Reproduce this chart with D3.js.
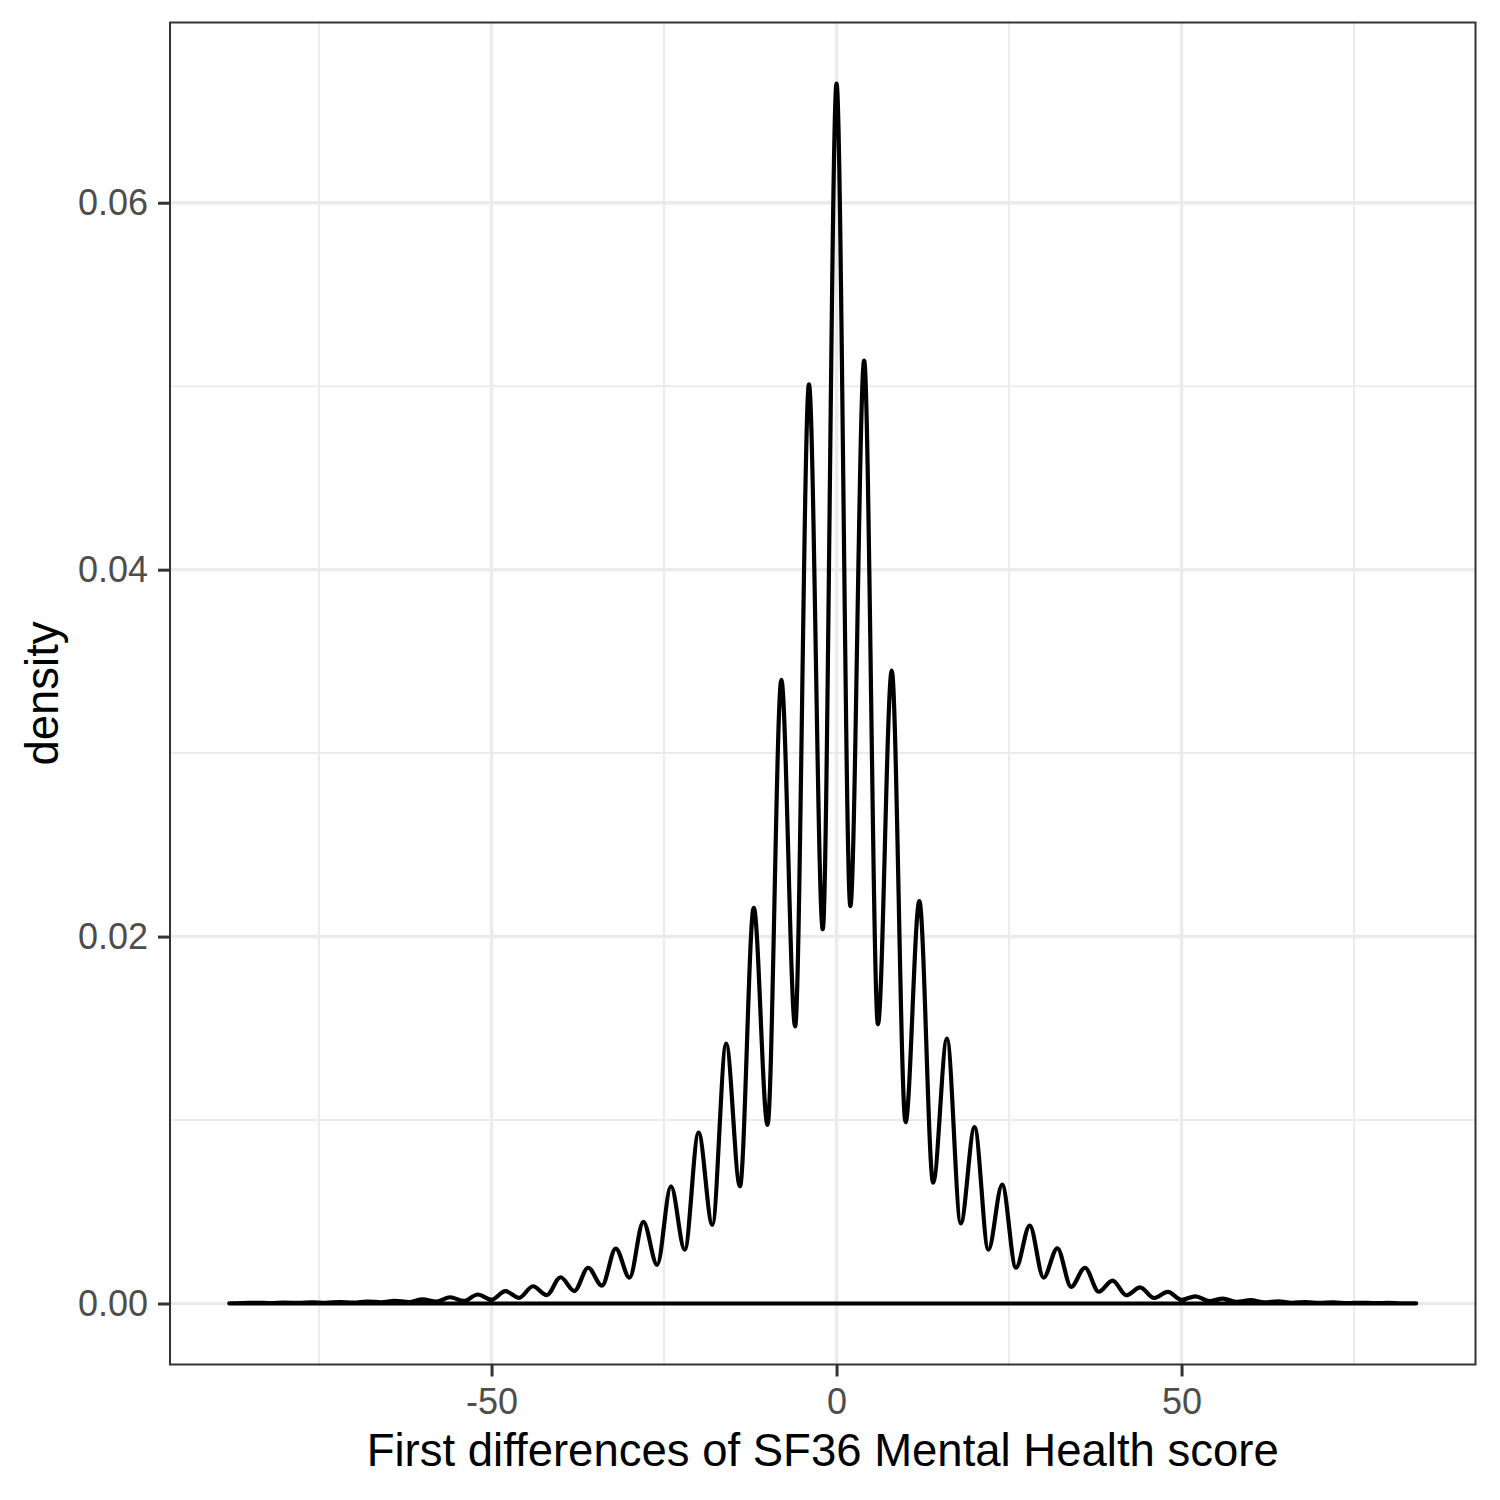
<!DOCTYPE html>
<html>
<head>
<meta charset="utf-8">
<script src="https://cdn.jsdelivr.net/npm/d3@7"></script>
<style>
  body { margin: 0; background: #fff; }
  text { font-family: "Liberation Sans", Arial, sans-serif; }
</style>
</head>
<body>
<svg width="1500" height="1500"></svg>
<script>
// density estimate, one value every 2 units
const diffX = [-88, -86, -84, -82, -80, -78, -76, -74, -72, -70, -68, -66, -64, -62, -60, -58, -56, -54, -52, -50,
  -48, -46, -44, -42, -40, -38, -36, -34, -32, -30, -28, -26, -24, -22, -20, -18, -16, -14, -12, -10,
  -8, -6, -4, -2, 0, 2, 4, 6, 8, 10, 12, 14, 16, 18, 20, 22, 24, 26, 28, 30,
  32, 34, 36, 38, 40, 42, 44, 46, 48, 50, 52, 54, 56, 58, 60, 62, 64, 66, 68, 70,
  72, 74, 76, 78, 80, 82, 84];
const densityY = [0.00001, 0.00002, 0.00004, 0.00002, 0.00005, 0.00003, 0.00006, 0.00004, 0.00008, 0.00005,
  0.00011, 0.00006, 0.00015, 0.00008, 0.00022, 0.00010, 0.00034, 0.00014, 0.00049, 0.00021,
  0.00067, 0.00031, 0.00094, 0.00046, 0.00143, 0.00068, 0.00195, 0.00097, 0.00299, 0.00141,
  0.00445, 0.00211, 0.00639, 0.00293, 0.00931, 0.00429, 0.01416, 0.00639, 0.02157, 0.00974,
  0.0340, 0.01511, 0.0501, 0.0204, 0.0665, 0.02166, 0.0514, 0.01522, 0.0345, 0.00988,
  0.02193, 0.00659, 0.01444, 0.00437, 0.00961, 0.00293, 0.00648, 0.00195, 0.00425, 0.00141,
  0.00301, 0.00091, 0.00195, 0.00064, 0.00125, 0.00045, 0.00088, 0.00030, 0.00063, 0.00020,
  0.00039, 0.00013, 0.00027, 0.00009, 0.00018, 0.00006, 0.00012, 0.00004, 0.00008, 0.00003,
  0.00006, 0.00002, 0.00004, 0.00002, 0.00003, 0.00001, 0.00001];

const xTicks = [-50, 0, 50];
const xMinor = [-75, -25, 25, 75];
const yTicks = [0, 0.02, 0.04, 0.06];
const yMinor = [0.01, 0.03, 0.05];
const xTitle = "First differences of SF36 Mental Health score";
const yTitle = "density";

const svg = d3.select("svg");
const panel = { left: 170, right: 1475.5, top: 22.5, bottom: 1364.5 };

// ggplot style 5% expansion on both axes
const xExt = d3.extent(diffX);
const xPad = (xExt[1] - xExt[0]) * 0.05;
const x = d3.scaleLinear().domain([xExt[0] - xPad, xExt[1] + xPad]).range([panel.left, panel.right]);
const yMax = d3.max(densityY);
const y = d3.scaleLinear().domain([-yMax * 0.05, yMax * 1.05]).range([panel.bottom, panel.top]);

const data = diffX.map((d, i) => ({ x: d, y: densityY[i] }));

svg.append("rect").attr("width", 1500).attr("height", 1500).attr("fill", "#fff");

const grid = svg.append("g");
grid.selectAll(".vminor").data(xMinor).join("line")
  .attr("x1", d => x(d)).attr("x2", d => x(d))
  .attr("y1", panel.top).attr("y2", panel.bottom)
  .attr("stroke", "#EBEBEB").attr("stroke-width", 2);
grid.selectAll(".hminor").data(yMinor).join("line")
  .attr("y1", d => y(d)).attr("y2", d => y(d))
  .attr("x1", panel.left).attr("x2", panel.right)
  .attr("stroke", "#EBEBEB").attr("stroke-width", 2);
grid.selectAll(".vmajor").data(xTicks).join("line")
  .attr("x1", d => x(d)).attr("x2", d => x(d))
  .attr("y1", panel.top).attr("y2", panel.bottom)
  .attr("stroke", "#EBEBEB").attr("stroke-width", 3.5);
grid.selectAll(".hmajor").data(yTicks).join("line")
  .attr("y1", d => y(d)).attr("y2", d => y(d))
  .attr("x1", panel.left).attr("x2", panel.right)
  .attr("stroke", "#EBEBEB").attr("stroke-width", 3.5);

// density outline, including the baseline like geom_density
const area = d3.area()
  .x(d => x(d.x))
  .y0(y(0))
  .y1(d => y(d.y))
  .curve(d3.curveMonotoneX);

svg.append("path")
  .datum(data)
  .attr("d", area)
  .attr("fill", "none")
  .attr("stroke", "#000")
  .attr("stroke-width", 4.2)
  .attr("stroke-linejoin", "round");

svg.append("rect")
  .attr("x", panel.left).attr("y", panel.top)
  .attr("width", panel.right - panel.left).attr("height", panel.bottom - panel.top)
  .attr("fill", "none").attr("stroke", "#333333").attr("stroke-width", 2);

// axes
const xAxis = svg.append("g").attr("transform", `translate(0,${panel.bottom})`)
  .call(d3.axisBottom(x).tickValues(xTicks).tickSize(12).tickPadding(12).tickFormat(d3.format("d")));
const yAxis = svg.append("g").attr("transform", `translate(${panel.left},0)`)
  .call(d3.axisLeft(y).tickValues(yTicks).tickSize(12).tickPadding(10).tickFormat(d3.format(".2f")));

[xAxis, yAxis].forEach(a => {
  a.select(".domain").remove();
  a.selectAll(".tick line").attr("stroke", "#333333").attr("stroke-width", 3);
  a.selectAll(".tick text")
    .attr("fill", "#4D4D4D")
    .attr("font-size", "36px")
    .attr("font-family", "Liberation Sans, Arial, sans-serif");
});
xAxis.selectAll(".tick text").text(d => d3.format("d")(d).replace("\u2212", "-"));

svg.append("text")
  .attr("x", (panel.left + panel.right) / 2)
  .attr("y", 1466)
  .attr("text-anchor", "middle")
  .attr("font-size", "45.5px")
  .attr("fill", "#000")
  .text(xTitle);

svg.append("text")
  .attr("transform", `translate(58,${(panel.top + panel.bottom) / 2}) rotate(-90)`)
  .attr("text-anchor", "middle")
  .attr("font-size", "45.5px")
  .attr("fill", "#000")
  .text(yTitle);
</script>
</body>
</html>
